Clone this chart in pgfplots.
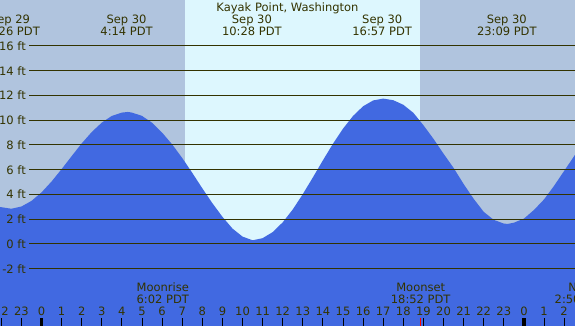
\documentclass[border=0pt]{standalone}
\usepackage{pgfplots}
\pgfplotsset{compat=1.18}
\usepackage{fontspec}
\setmainfont{DejaVu Sans}
\definecolor{night}{HTML}{B0C4DE}
\definecolor{day}{HTML}{DDF7FE}
\definecolor{tide}{HTML}{4169E1}
\definecolor{ink}{HTML}{333300}
\newcommand{\lbl}[3]{%
  \node[anchor=base,inner sep=0pt,text=ink] at (axis cs:#1,17.78) {#2};
  \node[anchor=base,inner sep=0pt,text=ink] at (axis cs:#1,16.81) {#3};}
\begin{document}
\begin{tikzpicture}[font=\fontsize{11.5}{13}\selectfont]
\begin{axis}[
  at={(0,0)}, anchor=south west,
  scale only axis, width=575pt, height=326pt,
  xmin=-2.065, xmax=26.542, ymin=-6.626, ymax=19.717,
  axis line style={draw=none},
  axis background/.style={fill=night},
  axis on top,
  ytick=\empty,
  xtick={-2,-1,...,26},
  xticklabels={22,23,0,1,2,3,4,5,6,7,8,9,10,11,12,13,14,15,16,17,18,19,20,21,22,23,0,1,2},
  xtick pos=bottom, tick align=inside,
  major tick length=8pt,
  tick style={draw=black, line width=1pt},
  xticklabel style={anchor=base, yshift=10pt, inner sep=0pt, text=ink, font=\fontsize{11.5}{13}\selectfont},
]
% daylight
\addplot[draw=none, fill=day] coordinates {(7.139,-7) (7.139,20) (18.831,20) (18.831,-7)};
% tide curve (filled down to the bottom)
\addplot[draw=none, fill=tide] coordinates {
(-2.2,-7) (-2.2,3.02) (-2.065,2.99) (-1.5,2.85) (-1,3.03) (-0.5,3.48) (0,4.17) (0.5,5.05) (1,6.05) (1.5,7.10) (2,8.13) (2.5,9.05) (3,9.81) (3.5,10.35) (4,10.62) (4.3,10.67) (4.5,10.62) (5,10.35) (5.5,9.8) (6,9.0) (6.5,8.05) (7,6.95) (7.5,5.75) (8,4.5) (8.5,3.3) (9,2.2) (9.5,1.25) (10,0.6) (10.5,0.3) (11,0.47) (11.5,0.96) (12,1.75) (12.5,2.79) (13,4.03) (13.5,5.38) (14,6.76) (14.5,8.10) (15,9.32) (15.5,10.35) (16,11.13) (16.5,11.60) (17,11.75) (17.5,11.62) (18,11.25) (18.5,10.6) (19,9.6) (19.5,8.5) (20,7.3) (20.5,6.15) (21,4.85) (21.5,3.65) (22,2.6) (22.5,1.95) (23,1.65) (23.19,1.62) (23.5,1.72) (24,2.05) (24.5,2.75) (25,3.6) (25.5,4.7) (26,5.9) (26.54,7.2) (26.6,7.35) (26.6,-7)};
% level lines
\pgfplotsinvokeforeach{-2,0,2,4,6,8,10,12,14,16}{
  \addplot[ink, line width=1pt] coordinates {(-0.62,#1) (27,#1)};
  \node[anchor=east, inner sep=0pt, text=ink] at (axis cs:-0.771,#1) {#1 ft};
}
% title and event labels
\node[anchor=base, inner sep=0pt, text=ink] at (axis cs:12.238,18.75) {Kayak Point, Washington};
\lbl{-1.567}{Sep 29}{22:26 PDT}
\lbl{4.233}{Sep 30}{4:14 PDT}
\lbl{10.467}{Sep 30}{10:28 PDT}
\lbl{16.95}{Sep 30}{16:57 PDT}
\lbl{23.15}{Sep 30}{23:09 PDT}
% moon labels
\node[anchor=base, inner sep=0pt, text=ink] at (axis cs:6.033,-3.85) {Moonrise};
\node[anchor=base, inner sep=0pt, text=ink] at (axis cs:6.033,-4.79) {6:02 PDT};
\node[anchor=base, inner sep=0pt, text=ink] at (axis cs:18.867,-3.85) {Moonset};
\node[anchor=base, inner sep=0pt, text=ink] at (axis cs:18.867,-4.79) {18:52 PDT};
\node[anchor=base, inner sep=0pt, text=ink] at (axis cs:26.833,-3.85) {New};
\node[anchor=base, inner sep=0pt, text=ink] at (axis cs:26.833,-4.79) {2:50 PDT};
% special ticks
\addplot[black, line width=3.3pt] coordinates {(0,-6.7) (0,-5.98)};
\addplot[black, line width=3.3pt] coordinates {(24,-6.7) (24,-5.98)};
\addplot[red, line width=1pt] coordinates {(6.033,-6.7) (6.033,-5.98)};
\addplot[red, line width=1pt] coordinates {(18.867,-6.7) (18.867,-5.98)};
\end{axis}
\pgfresetboundingbox
\path[use as bounding box] (0,0) rectangle (575pt,326pt);
\end{tikzpicture}
\end{document}
